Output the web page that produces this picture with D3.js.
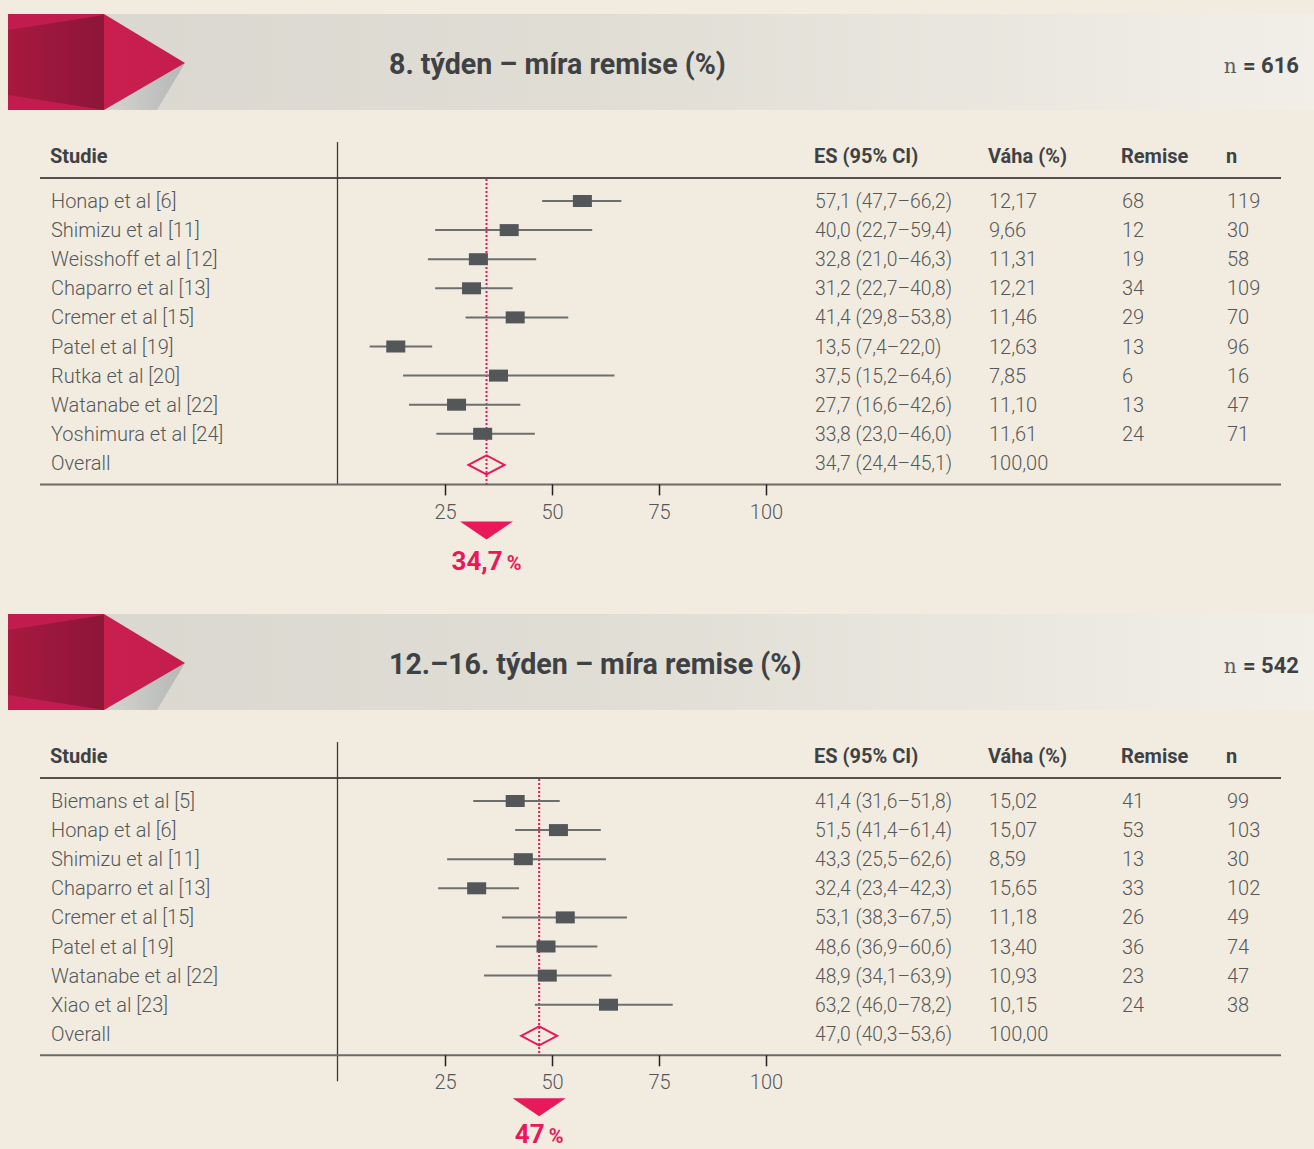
<!DOCTYPE html>
<html>
<head>
<meta charset="utf-8">
<script src="https://cdn.jsdelivr.net/npm/d3@7"></script>
<style>
  body { margin: 0; background: #f2ece0; }
  svg { display: block; }
</style>
</head>
<body>
<script>
// ---- data ----
const ticks = [25, 50, 75, 100];
const columns = ["Studie", "ES (95% CI)", "Váha (%)", "Remise", "n"];

const titles = ["8. týden – míra remise (%)", "12.–16. týden – míra remise (%)"];
const totals = [616, 542];
const overallLabels = ["34,7", "47"];

const studies1 = ["Honap et al [6]", "Shimizu et al [11]", "Weisshoff et al [12]", "Chaparro et al [13]",
    "Cremer et al [15]", "Patel et al [19]", "Rutka et al [20]", "Watanabe et al [22]", "Yoshimura et al [24]"];
const es1 = [57.1, 40.0, 32.8, 31.2, 41.4, 13.5, 37.5, 27.7, 33.8];
const lo1 = [47.7, 22.7, 21.0, 22.7, 29.8, 7.4, 15.2, 16.6, 23.0];
const hi1 = [66.2, 59.4, 46.3, 40.8, 53.8, 22.0, 64.6, 42.6, 46.0];
const weight1 = [12.17, 9.66, 11.31, 12.21, 11.46, 12.63, 7.85, 11.10, 11.61];
const remise1 = [68, 12, 19, 34, 29, 13, 6, 13, 24];
const n1 = [119, 30, 58, 109, 70, 96, 16, 47, 71];
const overall1 = [34.7, 24.4, 45.1];

const studies2 = ["Biemans et al [5]", "Honap et al [6]", "Shimizu et al [11]", "Chaparro et al [13]",
    "Cremer et al [15]", "Patel et al [19]", "Watanabe et al [22]", "Xiao et al [23]"];
const es2 = [41.4, 51.5, 43.3, 32.4, 53.1, 48.6, 48.9, 63.2];
const lo2 = [31.6, 41.4, 25.5, 23.4, 38.3, 36.9, 34.1, 46.0];
const hi2 = [51.8, 61.4, 62.6, 42.3, 67.5, 60.6, 63.9, 78.2];
const weight2 = [15.02, 15.07, 8.59, 15.65, 11.18, 13.40, 10.93, 10.15];
const remise2 = [41, 53, 13, 33, 26, 36, 23, 24];
const n2 = [99, 103, 30, 102, 49, 74, 47, 38];
const overall2 = [47.0, 40.3, 53.6];

// ---- layout ----
const W = 1314, H = 1149;
const red = "#e8185a";
const ink = "#3f4245";
const grey = "#55585a";
const font = "Roboto, 'Open Sans', sans-serif";
const colX = [51, 815, 989, 1122, 1227];
const rowH = 29.1;

const cz = v => d3.format(".1f")(v).replace(".", ",");
const cz2 = v => d3.format(".2f")(v).replace(".", ",");

const x = d3.scaleLinear().domain([0, 100]).range([338, 766]);

const svg = d3.select("body").append("svg")
    .attr("width", W).attr("height", H)
    .style("font-family", font);

const defs = svg.append("defs");
const lg = (id, stops, x1 = 0, x2 = 1) => {
    const g = defs.append("linearGradient").attr("id", id)
        .attr("x1", x1).attr("x2", x2).attr("y1", 0).attr("y2", 0);
    stops.forEach(([o, c]) => g.append("stop").attr("offset", o).attr("stop-color", c));
};
lg("band", [[0, "#d9d7cf"], [0.45, "#e0ddd5"], [1, "#f2efe8"]]);
lg("dark", [[0, "#a8193f"], [1, "#8c1538"]]);
lg("tri", [[0, "#c91f50"], [1, "#c41d4c"]]);
lg("shadow", [[0, "#d6d6d0"], [1, "#b4b7b6"]]);

function panel(top, opt) {
    const g = svg.append("g").attr("transform", `translate(0, ${top})`);

    // banner
    g.append("rect").attr("x", 8).attr("y", 14).attr("width", W - 8).attr("height", 96)
        .attr("fill", "url(#band)");
    g.append("rect").attr("x", 8).attr("y", 14).attr("width", 96).attr("height", 96)
        .attr("fill", "#c21c4e");
    g.append("path").attr("d", "M8,30 L104,15 L104,110 L8,95 Z").attr("fill", "url(#dark)");
    g.append("path").attr("d", "M104,110 L185,63 L157,110 Z").attr("fill", "url(#shadow)");
    g.append("path").attr("d", "M104,14 L185,63 L104,110 Z").attr("fill", "url(#tri)");

    g.append("text").attr("x", 389).attr("y", 74)
        .attr("font-size", 28.6).attr("font-weight", 700).attr("fill", ink)
        .text(opt.title);
    const nt = g.append("text").attr("x", 1299).attr("y", 73)
        .attr("text-anchor", "end").attr("fill", ink).attr("font-size", 22);
    nt.append("tspan").attr("font-family", "'DejaVu Serif', serif").attr("font-size", 20)
        .attr("fill", "#5a5c5e").text("n ");
    nt.append("tspan").attr("font-weight", 700).text("= " + opt.total);

    // table header
    g.selectAll("text.col").data(columns).join("text")
        .attr("class", "col")
        .attr("x", (d, i) => colX[i] - 1).attr("y", 163)
        .attr("font-size", 20).attr("font-weight", 700).attr("fill", ink)
        .text(d => d);
    g.append("line").attr("x1", 40).attr("x2", 1281).attr("y1", 178).attr("y2", 178)
        .attr("stroke", "#1e1e1e").attr("stroke-width", 1.6);

    const rows = opt.studies.map((s, i) => ({
        name: s, es: opt.es[i], lo: opt.lo[i], hi: opt.hi[i],
        w: opt.weight[i], r: opt.remise[i], n: opt.n[i]
    }));
    const y = i => 201 + i * rowH;
    const yo = y(rows.length);
    const axisY = yo + 21.5;

    // separator
    g.append("line").attr("x1", 337.5).attr("x2", 337.5)
        .attr("y1", 142).attr("y2", axisY + opt.sepExtra)
        .attr("stroke", "#3a3a3a").attr("stroke-width", 1.3);

    // text columns
    const rowText = (cls, xi, acc) => g.selectAll(`text.${cls}`).data(rows).join("text")
        .attr("class", cls)
        .attr("x", colX[xi]).attr("y", (d, i) => y(i) + 7)
        .attr("font-size", 20).attr("font-weight", 300).attr("fill", grey)
        .text(acc);
    rowText("name", 0, d => d.name);
    rowText("es", 1, d => `${cz(d.es)} (${cz(d.lo)}–${cz(d.hi)})`)
        .attr("font-size", 19.3);
    rowText("w", 2, d => cz2(d.w));
    rowText("r", 3, d => d.r);
    rowText("nn", 4, d => d.n);

    const ov = opt.overall;
    [["Overall", 0, 20], [`${cz(ov[0])} (${cz(ov[1])}–${cz(ov[2])})`, 1, 19.3], ["100,00", 2, 20]].forEach(([t, i, fs]) =>
        g.append("text").attr("x", colX[i]).attr("y", yo + 7)
            .attr("font-size", fs).attr("font-weight", 300).attr("fill", grey).text(t));

    // axis
    g.append("line").attr("x1", 40).attr("x2", 1281).attr("y1", axisY).attr("y2", axisY)
        .attr("stroke", "#6a6a66").attr("stroke-width", 2);
    const ax = g.append("g").attr("transform", `translate(0, ${axisY})`)
        .call(d3.axisBottom(x).tickValues(ticks).tickSize(11).tickPadding(9));
    ax.select(".domain").remove();
    ax.selectAll(".tick line").attr("stroke", "#222").attr("stroke-width", 1.5);
    ax.selectAll(".tick text").attr("font-family", font).attr("font-size", 20)
        .attr("font-weight", 300).attr("fill", grey);

    // reference line
    g.append("line").attr("x1", x(ov[0])).attr("x2", x(ov[0]))
        .attr("y1", 179).attr("y2", axisY)
        .attr("stroke", red).attr("stroke-width", 2).attr("stroke-dasharray", "2,2");

    // CI lines and boxes
    g.selectAll("line.ci").data(rows).join("line")
        .attr("class", "ci")
        .attr("x1", d => x(d.lo)).attr("x2", d => x(d.hi))
        .attr("y1", (d, i) => y(i)).attr("y2", (d, i) => y(i))
        .attr("stroke", "#6c6f6e").attr("stroke-width", 2);
    g.selectAll("rect.box").data(rows).join("rect")
        .attr("class", "box")
        .attr("x", d => x(d.es) - 9.5).attr("y", (d, i) => y(i) - 6)
        .attr("width", 19).attr("height", 12)
        .attr("fill", "#53575a");

    // overall diamond
    const cx = x(ov[0]);
    g.append("path")
        .attr("d", `M${cx - 18},${yo + 2} L${cx},${yo - 7.5} L${cx + 18},${yo + 2} L${cx},${yo + 11.5} Z`)
        .attr("fill", "none").attr("stroke", red).attr("stroke-width", 2);

    // pointer and label
    g.append("path")
        .attr("d", `M${cx - 26.5},${axisY + opt.pointerDy} L${cx + 26.5},${axisY + opt.pointerDy} L${cx},${axisY + opt.pointerDy + 18} Z`)
        .attr("fill", red);
    const lt = g.append("text").attr("x", cx).attr("y", axisY + opt.pointerDy + opt.labelDy)
        .attr("text-anchor", "middle").attr("fill", red).attr("font-weight", 700);
    lt.append("tspan").attr("font-size", 26).text(opt.label);
    lt.append("tspan").attr("font-size", 20).attr("dx", 4).text("%");
}

panel(0, {
    title: titles[0], total: totals[0], label: overallLabels[0],
    studies: studies1, es: es1, lo: lo1, hi: hi1, weight: weight1, remise: remise1, n: n1,
    overall: overall1, sepExtra: 0, pointerDy: 37, labelDy: 49
});
panel(600, {
    title: titles[1], total: totals[1], label: overallLabels[1],
    studies: studies2, es: es2, lo: lo2, hi: hi2, weight: weight2, remise: remise2, n: n2,
    overall: overall2, sepExtra: 26, pointerDy: 43, labelDy: 45
});
</script>
</body>
</html>
